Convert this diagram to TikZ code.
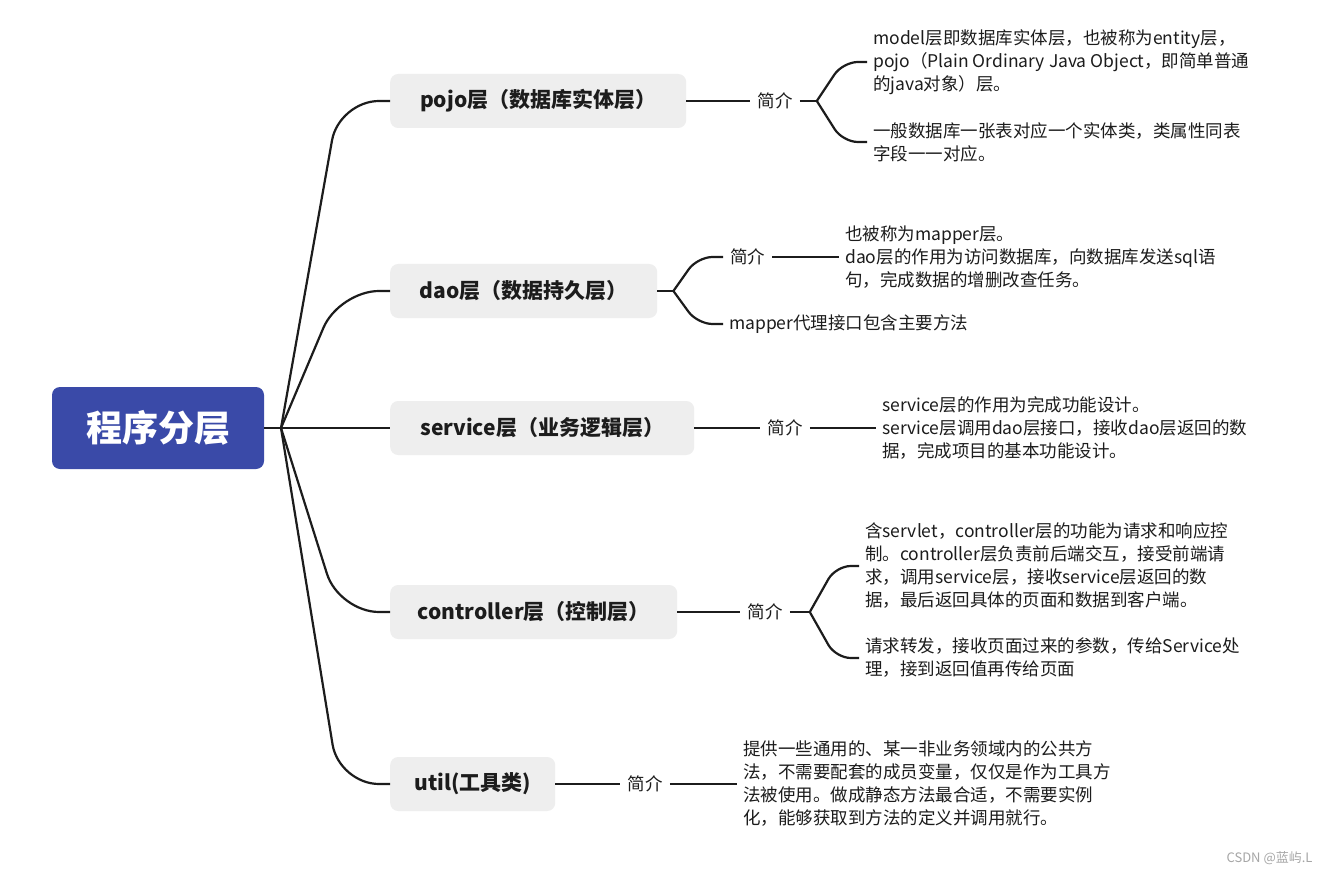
\documentclass[tikz,border=0pt]{standalone}
\usepackage{fontspec}
\usepackage{tikz}
\usetikzlibrary{calc,positioning}
\setmainfont{Noto Sans CJK SC}
\definecolor{rootblue}{HTML}{3A4AA8}
\definecolor{layergray}{HTML}{EEEEEE}
\definecolor{inktext}{HTML}{1C1C1C}
\definecolor{markgray}{HTML}{A6A6A6}

\begin{document}
\begin{tikzpicture}[x=1pt,y=-1pt,
 root/.style={fill=rootblue,rounded corners=8pt,minimum width=212pt,minimum height=82pt,text=white,font=\fontsize{36}{40}\selectfont\bfseries},
 layer/.style={fill=layergray,rounded corners=8pt,minimum height=54pt,anchor=west,text=inktext,font=\fontsize{21}{25}\selectfont\bfseries},
 intro/.style={inner xsep=7pt,inner ysep=0pt,text=inktext,font=\fontsize{17.5}{23}\selectfont},
 desc/.style={anchor=west,align=left,inner xsep=6pt,inner ysep=0pt,text=inktext,font=\fontsize{17.5}{23}\selectfont},
 limb/.style={draw=inktext,line width=2.2pt,rounded corners=40pt},
 twig/.style={draw=inktext,line width=2.2pt,rounded corners=15pt}
]
\useasboundingbox (0,0) rectangle (1329,874);
\fill[white] (0,0) rectangle (1329,874);

\node[root] (root) at (158,428) {程序分层};
\coordinate (hub) at (281,428);

\node[layer,minimum width=296pt] (pojo) at (390,101) {pojo层（数据库实体层）};
\node[layer,minimum width=267pt] (dao) at (390,291) {dao层（数据持久层）};
\node[layer,minimum width=304pt] (service) at (390,428) {service层（业务逻辑层）};
\node[layer,minimum width=287pt] (ctrl) at (390,612) {controller层（控制层）};
\node[layer,minimum width=165pt] (util) at (390,784) {util(工具类)};

\node[intro,right=64pt of pojo] (pojoIntro) {简介};
\coordinate[right=17pt of pojoIntro] (pojoFork);
\node[desc] (pojoA) at (867,62) {model层即数据库实体层，也被称为entity层，\\pojo（Plain Ordinary Java Object，即简单普通\\的java对象）层。};
\node[desc] (pojoB) at (867,142) {一般数据库一张表对应一个实体类，类属性同表\\字段一一对应。};

\coordinate[right=16pt of dao] (daoFork);
\node[intro,anchor=west] (daoIntro) at (723,257) {简介};
\node[desc] (daoB) at (723,324) {mapper代理接口包含主要方法};
\node[desc] (daoA) at (839,257) {也被称为mapper层。\\dao层的作用为访问数据库，向数据库发送sql语\\句，完成数据的增删改查任务。};

\node[intro,right=66pt of service] (serviceIntro) {简介};
\node[desc] (serviceA) at (876,428) {service层的作用为完成功能设计。\\service层调用dao层接口，接收dao层返回的数\\据，完成项目的基本功能设计。};

\node[intro,right=63pt of ctrl] (ctrlIntro) {简介};
\coordinate[right=20pt of ctrlIntro] (ctrlFork);
\node[desc] (ctrlA) at (859,566) {含servlet，controller层的功能为请求和响应控\\制。controller层负责前后端交互，接受前端请\\求，调用service层，接收service层返回的数\\据，最后返回具体的页面和数据到客户端。};
\node[desc] (ctrlB) at (859,658) {请求转发，接收页面过来的参数，传给Service处\\理，接到返回值再传给页面};

\node[intro,right=65pt of util] (utilIntro) {简介};
\node[desc] (utilA) at (737,784) {提供一些通用的、某一非业务领域内的公共方\\法，不需要配套的成员变量，仅仅是作为工具方\\法被使用。做成静态方法最合适，不需要实例\\化，能够获取到方法的定义并调用就行。};

\node[anchor=east,text=markgray,font=\fontsize{13}{15}\selectfont] (mark) at (1316,858) {CSDN @蓝屿.L};

\draw[limb] (root.east) -- (hub);
\draw[limb] (hub) -- ($(pojo.west -| hub)+(58,0)$) -- (pojo.west);
\draw[limb] (hub) -- ($(dao.west -| hub)+(58,0)$) -- (dao.west);
\draw[limb] (hub) -- (service.west);
\draw[limb] (hub) -- ($(ctrl.west -| hub)+(58,0)$) -- (ctrl.west);
\draw[limb] (hub) -- ($(util.west -| hub)+(58,0)$) -- (util.west);

\draw[twig] (pojo.east) -- (pojoIntro.west);
\draw[twig] (pojoIntro.east) -- (pojoFork);
\draw[twig] (pojoFork) -- ($(pojoA.west -| pojoFork)+(26,0)$) -- (pojoA.west);
\draw[twig] (pojoFork) -- ($(pojoB.west -| pojoFork)+(26,0)$) -- (pojoB.west);

\draw[twig] (dao.east) -- (daoFork);
\draw[twig] (daoFork) -- ($(daoIntro.west -| daoFork)+(24,0)$) -- (daoIntro.west);
\draw[twig] (daoFork) -- ($(daoB.west -| daoFork)+(24,0)$) -- (daoB.west);
\draw[twig] (daoIntro.east) -- (daoIntro.east -| daoA.west);

\draw[twig] (service.east) -- (serviceIntro.west);
\draw[twig] (serviceIntro.east) -- (serviceIntro.east -| serviceA.west);

\draw[twig] (ctrl.east) -- (ctrlIntro.west);
\draw[twig] (ctrlIntro.east) -- (ctrlFork);
\draw[twig] (ctrlFork) -- ($(ctrlA.west -| ctrlFork)+(26,0)$) -- (ctrlA.west);
\draw[twig] (ctrlFork) -- ($(ctrlB.west -| ctrlFork)+(26,0)$) -- (ctrlB.west);

\draw[twig] (util.east) -- (utilIntro.west);
\draw[twig] (utilIntro.east) -- (utilIntro.east -| utilA.west);
\end{tikzpicture}
\end{document}
